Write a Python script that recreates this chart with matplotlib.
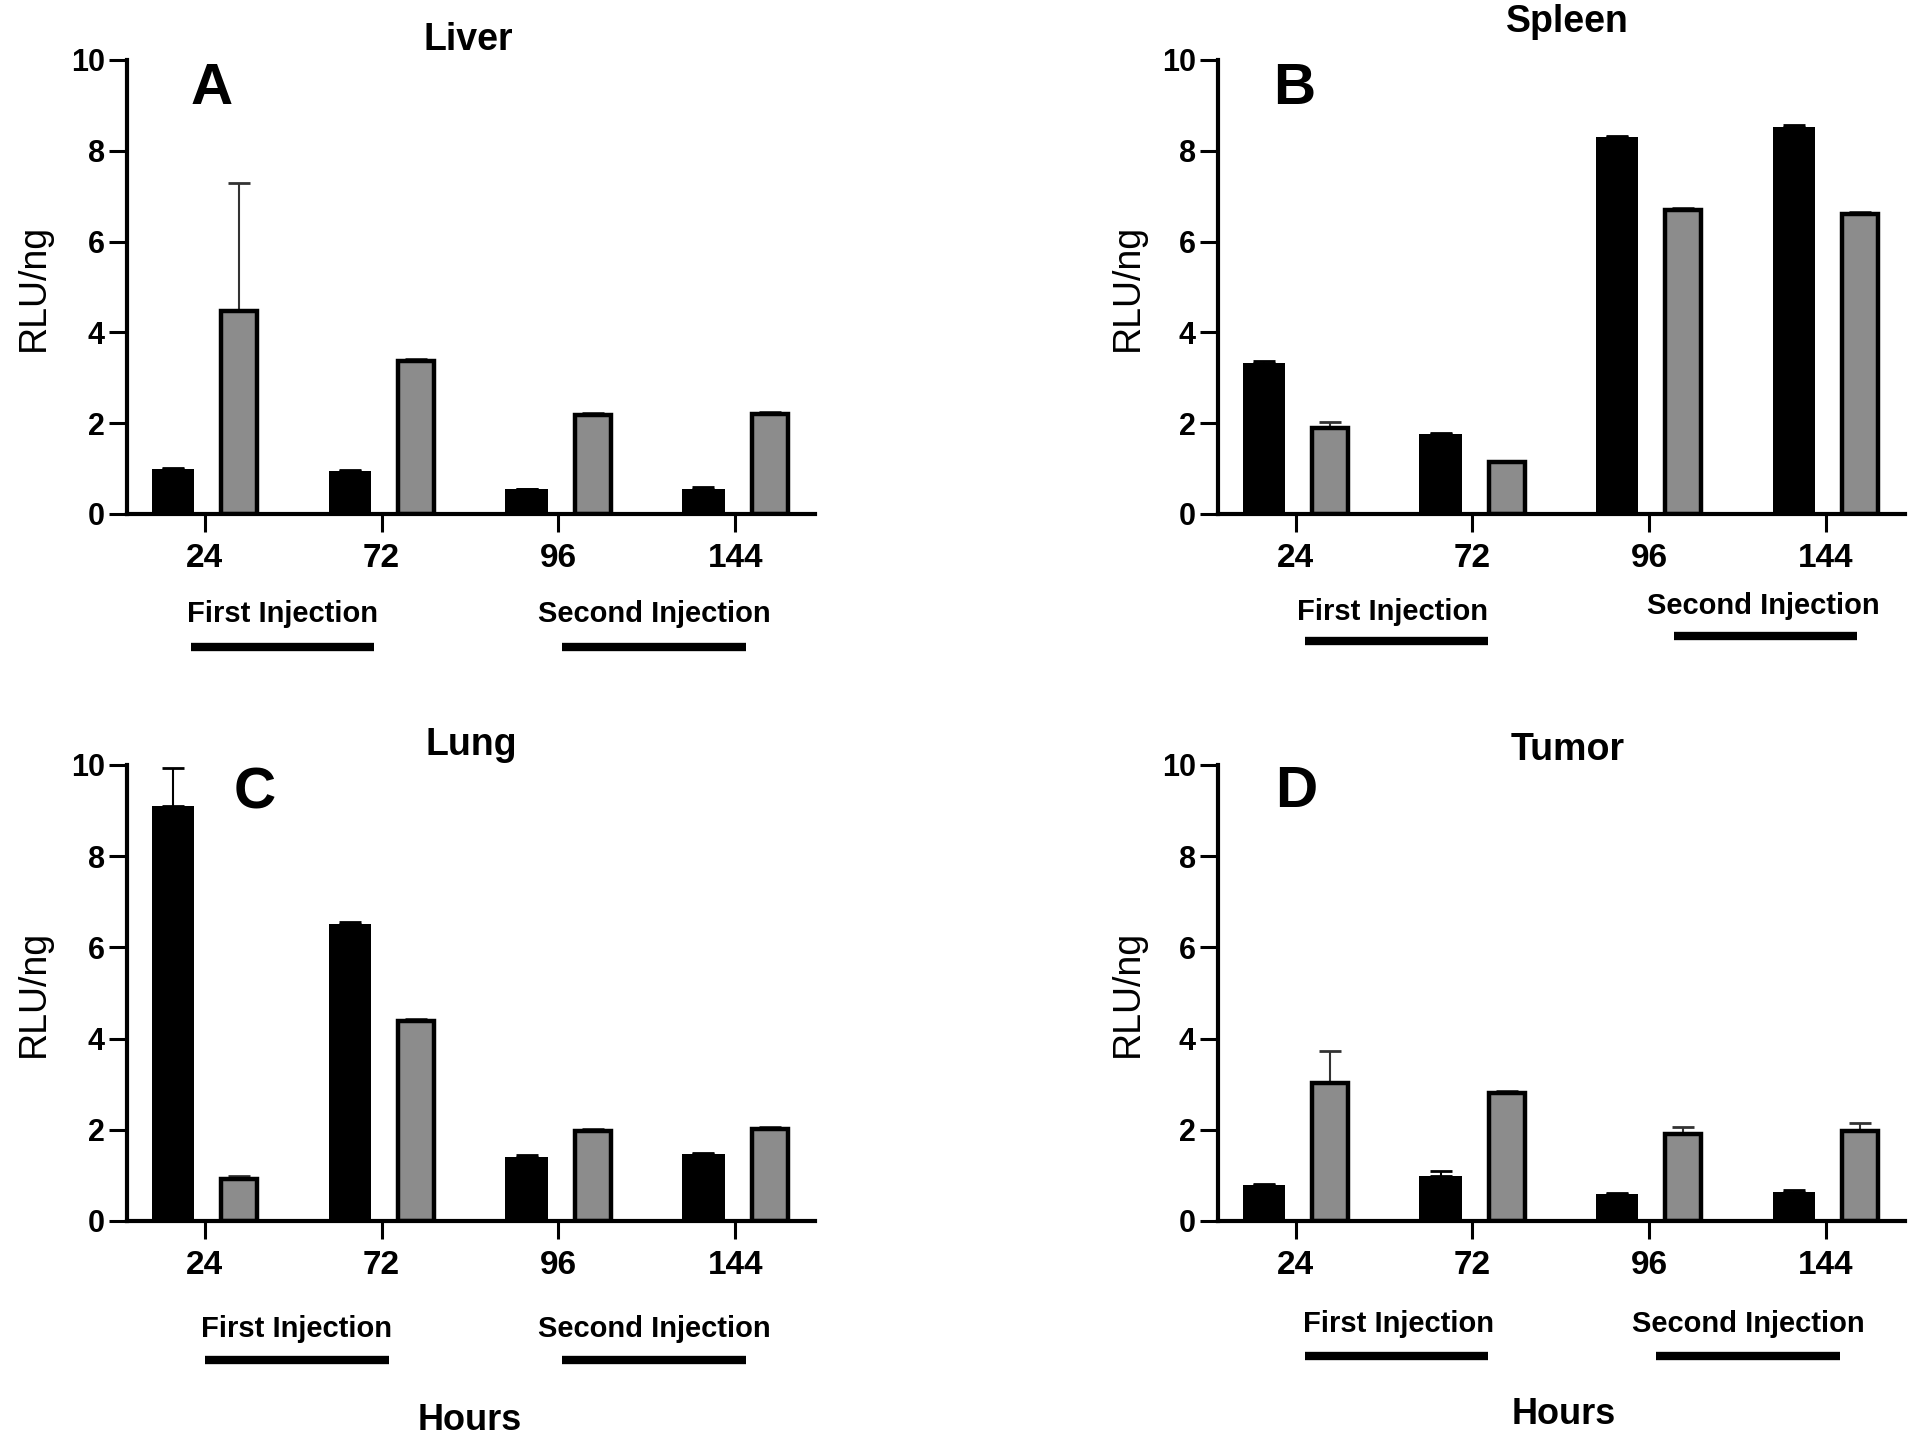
import matplotlib.pyplot as plt
import numpy as np

plt.rcParams['font.family'] = ['Liberation Sans', 'DejaVu Sans']

hours = ["24", "72", "96", "144"]
organs = ["Liver", "Spleen", "Lung", "Tumor"]
letters = ["A", "B", "C", "D"]

# black bars / grey bars (RLU/ng) with upper error
liver_black = [0.99, 0.94, 0.54, 0.56]
liver_black_err = [0.03, 0.02, 0.02, 0.03]
liver_grey = [4.47, 3.37, 2.19, 2.21]
liver_grey_err = [2.83, 0.05, 0.04, 0.03]

spleen_black = [3.32, 1.76, 8.30, 8.52]
spleen_black_err = [0.05, 0.02, 0.03, 0.04]
spleen_grey = [1.90, 1.14, 6.70, 6.61]
spleen_grey_err = [0.12, 0.03, 0.05, 0.04]

lung_black = [9.11, 6.52, 1.41, 1.47]
lung_black_err = [0.82, 0.03, 0.03, 0.03]
lung_grey = [0.93, 4.38, 1.98, 2.02]
lung_grey_err = [0.06, 0.05, 0.04, 0.04]

tumor_black = [0.78, 0.98, 0.58, 0.63]
tumor_black_err = [0.03, 0.12, 0.03, 0.04]
tumor_grey = [3.03, 2.81, 1.91, 1.98]
tumor_grey_err = [0.69, 0.03, 0.14, 0.16]

black_vals = [liver_black, spleen_black, lung_black, tumor_black]
black_errs = [liver_black_err, spleen_black_err, lung_black_err, tumor_black_err]
grey_vals = [liver_grey, spleen_grey, lung_grey, tumor_grey]
grey_errs = [liver_grey_err, spleen_grey_err, lung_grey_err, tumor_grey_err]

# layout per panel
rects = [[0.0661, 0.6436, 0.3583, 0.3148],
         [0.6344, 0.6436, 0.3578, 0.3148],
         [0.0661, 0.1533, 0.3583, 0.3162],
         [0.6344, 0.1533, 0.3578, 0.3162]]
title_pos = [(1.49, 10.43), (1.54, 10.83), (1.51, 10.43), (1.54, 10.32)]
letter_pos = [(0.04, 9.35), (-0.01, 9.35), (0.28, 9.38), (0.0, 9.41)]
first_txt = [(0.44, -2.21), (0.55, -2.16), (0.52, -2.37), (0.58, -2.26)]
second_txt = [(2.54, -2.21), (2.65, -2.02), (2.54, -2.37), (2.56, -2.26)]
first_bar = [(-0.08, 0.96, -2.94), (0.05, 1.09, -2.80), (0.0, 1.04, -3.06), (0.05, 1.09, -2.96)]
second_bar = [(2.02, 3.06, -2.94), (2.14, 3.18, -2.70), (2.02, 3.06, -3.06), (2.04, 3.08, -2.96)]
ylab_x = [-0.109, -0.105, -0.109, -0.105]

grey = '#8c8c8c'
x = np.arange(len(hours))

fig = plt.figure(figsize=(19.2, 14.42), dpi=100)

for i in range(4):
    ax = fig.add_axes(rects[i])
    ax.bar(x - 0.18, black_vals[i], width=0.24, color='black', zorder=2)
    ax.bar(x + 0.195, grey_vals[i], width=0.205, color=grey, edgecolor='black',
           linewidth=3.2, zorder=2)
    ax.errorbar(x - 0.18, black_vals[i], yerr=[np.zeros(4), black_errs[i]], fmt='none',
                ecolor='black', elinewidth=1.5, capsize=8, capthick=2, zorder=1)
    ax.errorbar(x + 0.195, grey_vals[i], yerr=[np.zeros(4), grey_errs[i]], fmt='none',
                ecolor='#333333', elinewidth=1.5, capsize=8, capthick=2, zorder=1)

    ax.set_xlim(-0.44, 3.45)
    ax.set_ylim(0, 10)
    ax.set_yticks([0, 2, 4, 6, 8, 10])
    ax.set_xticks(x)
    ax.set_xticklabels(hours)
    for s in ['top', 'right']:
        ax.spines[s].set_visible(False)
    for s in ['left', 'bottom']:
        ax.spines[s].set_linewidth(3)
    ax.tick_params(axis='both', length=13, width=2.2)
    ax.tick_params(axis='x', pad=8, labelsize=24)
    ax.tick_params(axis='y', pad=3, labelsize=22)
    for lab in ax.get_xticklabels() + ax.get_yticklabels():
        lab.set_fontweight('bold')

    ax.set_ylabel("RLU/ng", fontsize=27)
    ax.yaxis.set_label_coords(ylab_x[i], 0.5)

    ax.text(*title_pos[i], organs[i], fontsize=27, fontweight='bold',
            ha='center', va='center', clip_on=False)
    ax.text(*letter_pos[i], letters[i], fontsize=42, fontweight='bold',
            ha='center', va='center')
    ax.text(*first_txt[i], "First Injection", fontsize=21, fontweight='bold',
            ha='center', va='center', clip_on=False)
    ax.text(*second_txt[i], "Second Injection", fontsize=21, fontweight='bold',
            ha='center', va='center', clip_on=False)
    ax.plot(first_bar[i][:2], [first_bar[i][2]] * 2, color='black', lw=6,
            solid_capstyle='butt', clip_on=False)
    ax.plot(second_bar[i][:2], [second_bar[i][2]] * 2, color='black', lw=6,
            solid_capstyle='butt', clip_on=False)
    if i == 2:
        ax.text(1.50, -4.38, "Hours", fontsize=26, fontweight='bold',
                ha='center', va='center', clip_on=False)
    if i == 3:
        ax.text(1.52, -4.25, "Hours", fontsize=26, fontweight='bold',
                ha='center', va='center', clip_on=False)

fig.savefig("out.png", dpi=100)
plt.close()
